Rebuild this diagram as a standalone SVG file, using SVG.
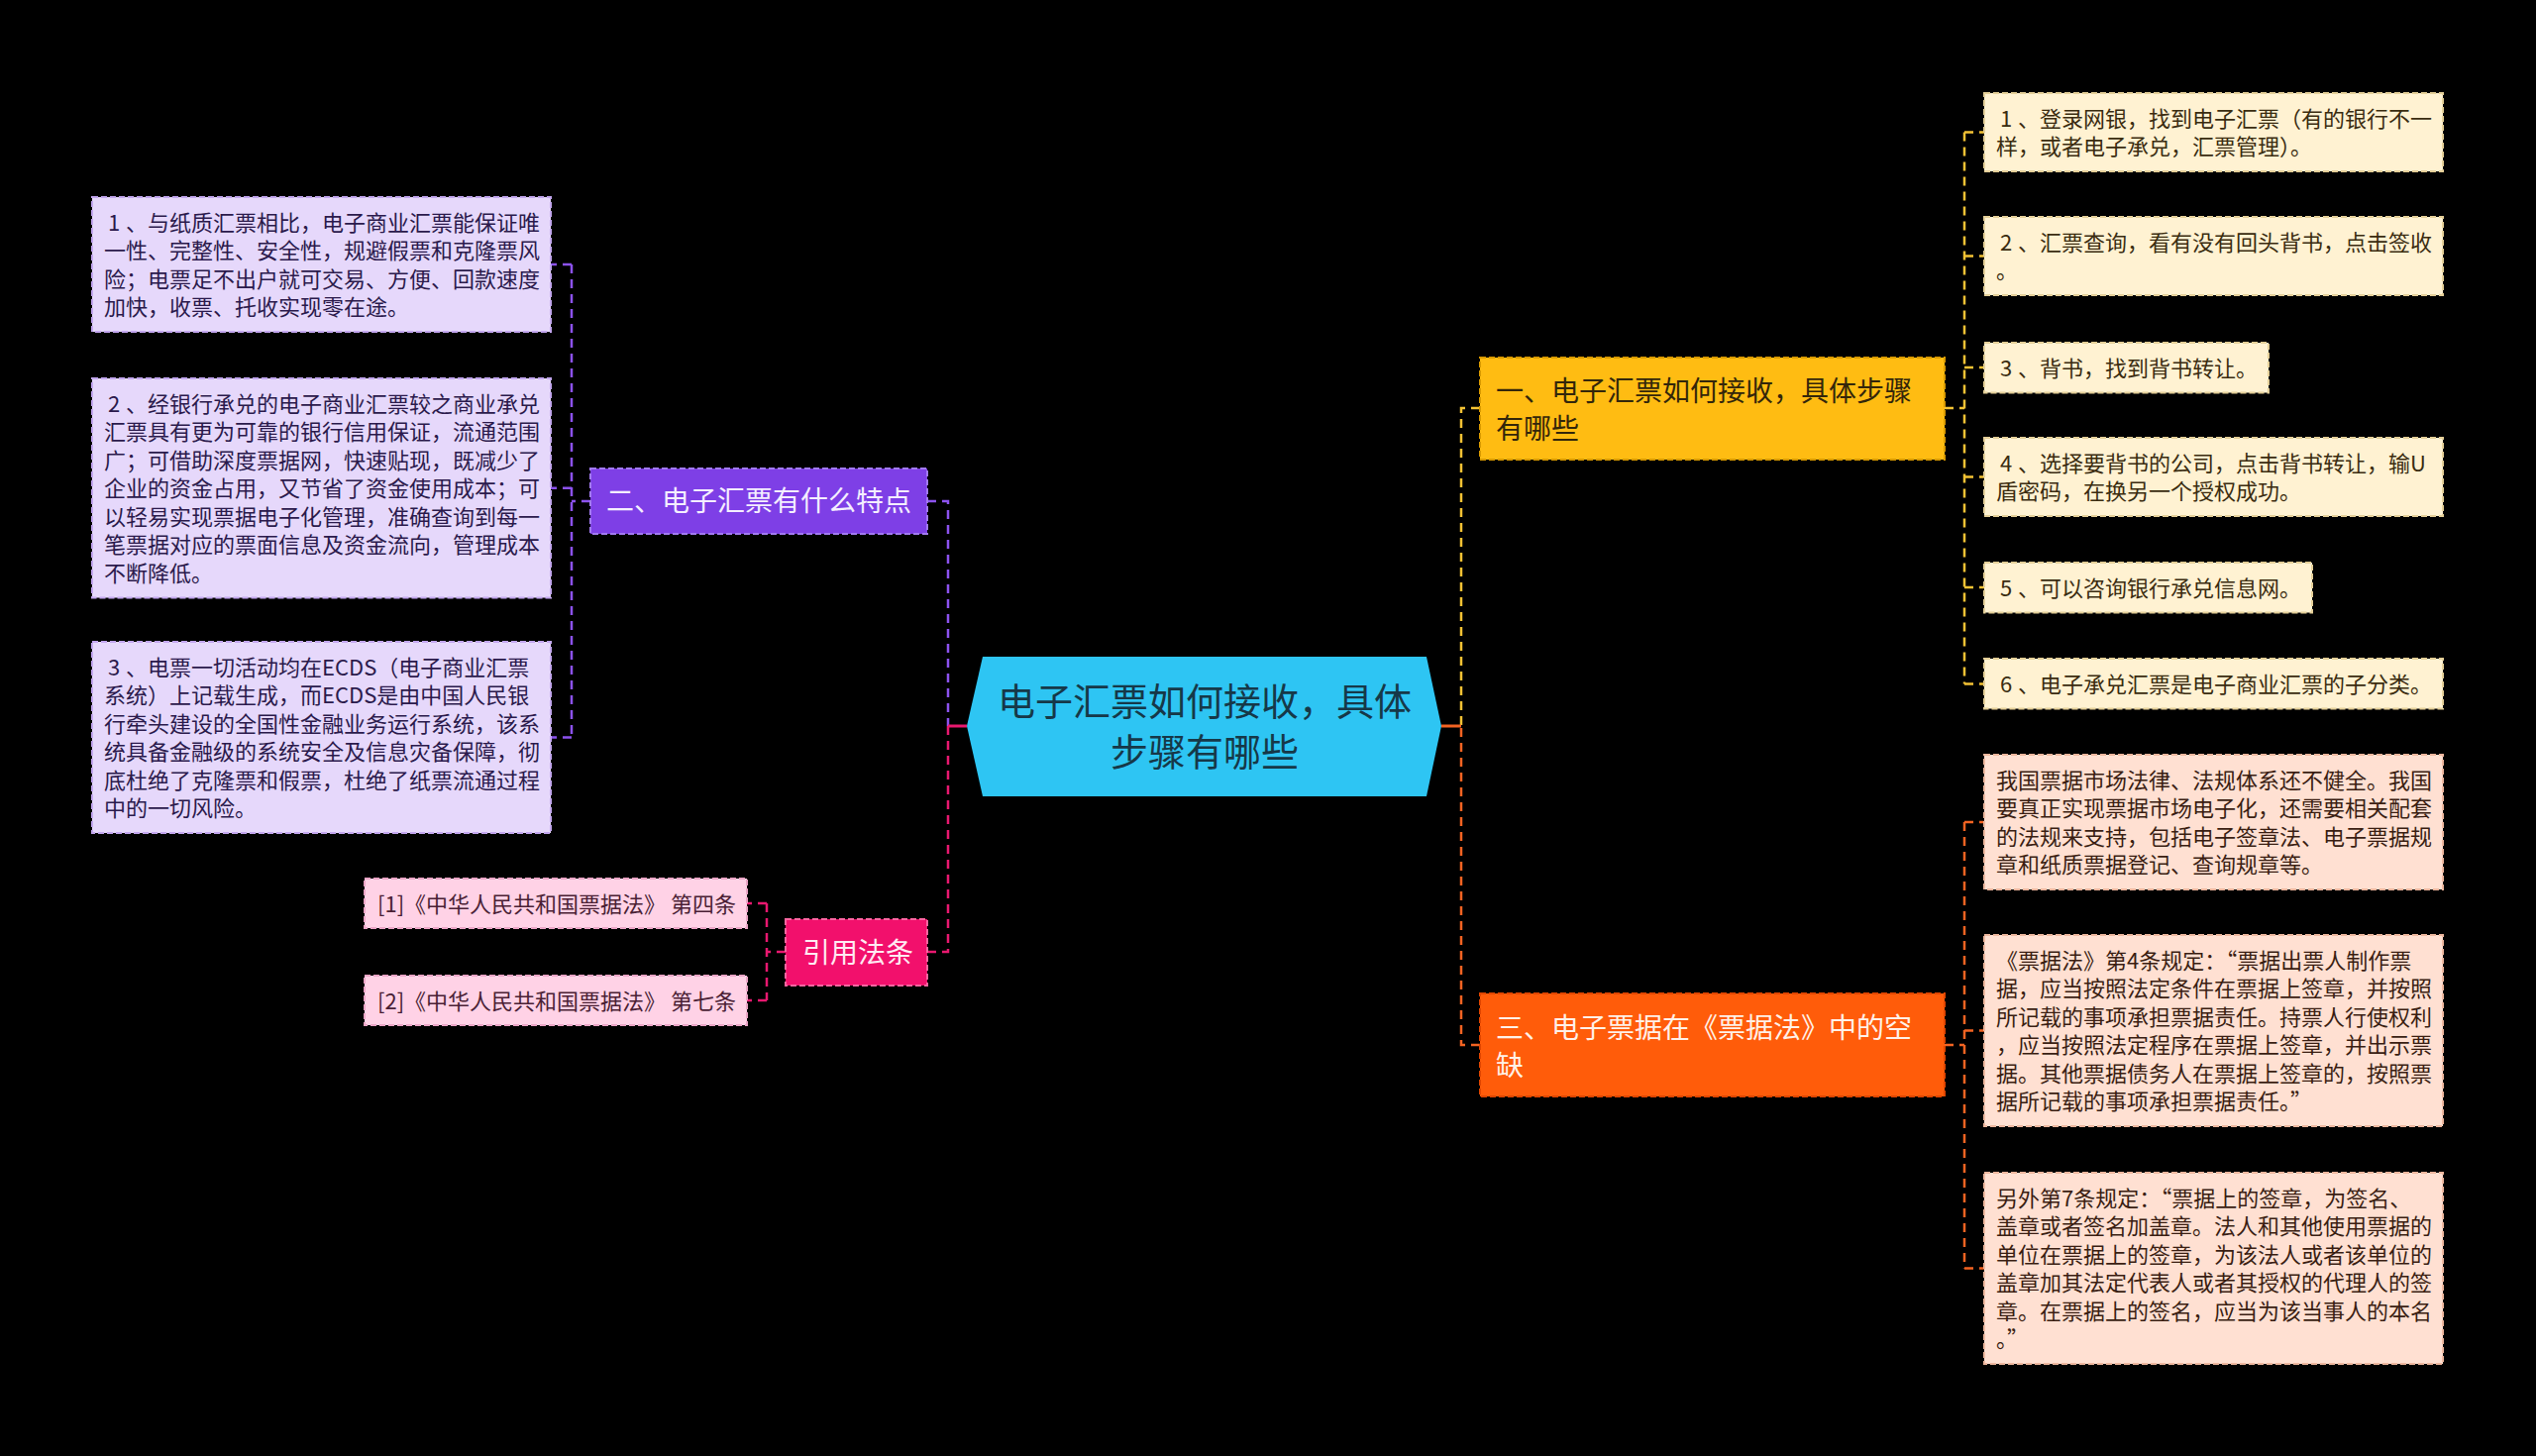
<svg xmlns="http://www.w3.org/2000/svg" width="2560" height="1470" viewBox="0 0 2560 1470">
<style>
text{font-family:"Noto Sans CJK SC","Microsoft YaHei","Noto Sans",sans-serif;}
.leaf{font-size:22px;}
.lp rect{fill:#E6D8FB;stroke:#C2A6EE;stroke-width:2;stroke-dasharray:6 3;}
.lp text{fill:#2B1A4C;}
.lc rect{fill:#FFD2E6;stroke:#EBA5C6;stroke-width:2;stroke-dasharray:6 3;}
.lc text{fill:#4A1F35;}
.ly rect{fill:#FFF2D2;stroke:#E4CF98;stroke-width:2;stroke-dasharray:6 3;}
.ly text{fill:#3A2C10;}
.lo rect{fill:#FFE0D2;stroke:#EDB79E;stroke-width:2;stroke-dasharray:6 3;}
.lo text{fill:#3A1E12;}
.node{font-size:28px;}
.c{fill:none;stroke-width:2.5;stroke-dasharray:9 6;}
.cp{stroke:#8C52EE;}
.ck{stroke:#E8186F;}
.cy{stroke:#F3C234;}
.co{stroke:#F26322;}
</style>
<rect width="2560" height="1470" fill="#000"/>
<g id="connectors">
<path class="c cp" d="M936,506 H957 V733"/>
<path class="c ck" d="M936,961 H957 V733"/>
<path d="M957,733 H976" stroke="#E8186F" stroke-width="3" fill="none"/>
<path class="c cp" d="M596,506 H577"/>
<path class="c cp" d="M577,267 V744.5"/>
<path class="c cp" d="M577,267 H556 M577,492.7 H556 M577,744.5 H556"/>
<path class="c ck" d="M793,961 H774"/>
<path class="c ck" d="M774,912 V1010"/>
<path class="c ck" d="M774,912 H754 M774,1010 H754"/>
<path class="c cy" d="M1494,412 H1475 V733"/>
<path class="c co" d="M1494,1055 H1475 V733"/>
<path d="M1455,733 H1475" stroke="#F26322" stroke-width="3" fill="none"/>
<path class="c cy" stroke-width="2" d="M1963,412 H1983"/>
<path class="c cy" stroke-width="2" d="M1983,133.5 V690.5"/>
<path class="c cy" stroke-width="2" d="M1983,133.5 H2003 M1983,258.5 H2003 M1983,371 H2003 M1983,481.5 H2003 M1983,593 H2003 M1983,690.5 H2003"/>
<path class="c co" stroke-width="2" d="M1963,1055 H1983"/>
<path class="c co" stroke-width="2" d="M1983,830 V1280.5"/>
<path class="c co" stroke-width="2" d="M1983,830 H2003 M1983,1040.5 H2003 M1983,1280.5 H2003"/>
</g>
<g id="center">
<polygon points="976,733 992,663 1440,663 1455,733 1440,804 992,804" fill="#2EC5F3"/>
<text x="1216" y="722" font-size="38" fill="#163848" text-anchor="middle">电子汇票如何接收，具体</text>
<text x="1216" y="773" font-size="38" fill="#163848" text-anchor="middle">步骤有哪些</text>
</g>
<g id="n-features">
<rect x="596" y="473" width="340" height="66" fill="#7E3FE6" stroke="#A27AF0" stroke-width="2" stroke-dasharray="6 3"/>
<text class="node" x="612" y="516" fill="#F4EEFF">二、电子汇票有什么特点</text>
</g>
<g id="n-law">
<rect x="793" y="928" width="143" height="67" fill="#F2106C" stroke="#F865A0" stroke-width="2" stroke-dasharray="6 3"/>
<text class="node" x="810" y="972" fill="#FFEAF2">引用法条</text>
</g>
<g id="n-receive">
<rect x="1494" y="361" width="469" height="103" fill="#FFBC12" stroke="#D99A00" stroke-width="2" stroke-dasharray="6 3"/>
<text class="node" fill="#33260A"><tspan x="1510" y="405">一、电子汇票如何接收，具体步骤</tspan><tspan x="1510" y="443">有哪些</tspan></text>
</g>
<g id="n-gap">
<rect x="1494" y="1003" width="469" height="104" fill="#FF5C0A" stroke="#E04500" stroke-width="2" stroke-dasharray="6 3"/>
<text class="node" fill="#FFF1E8"><tspan x="1510" y="1048">三、电子票据在《票据法》中的空</tspan><tspan x="1510" y="1086">缺</tspan></text>
</g>
<g id="l1" class="lp leaf">
<rect x="93" y="199" width="463" height="136"/>
<text><tspan x="109" y="232.7">1</tspan><tspan x="127" y="232.7">、与纸质汇票相比，电子商业汇票能保证唯</tspan><tspan x="105" y="261.2">一性、完整性、安全性，规避假票和克隆票风</tspan><tspan x="105" y="289.7">险；电票足不出户就可交易、方便、回款速度</tspan><tspan x="105" y="318.2">加快，收票、托收实现零在途。</tspan></text>
</g>
<g id="l2" class="lp leaf">
<rect x="93" y="382" width="463" height="221.5"/>
<text><tspan x="109" y="415.7">2</tspan><tspan x="127" y="415.7">、经银行承兑的电子商业汇票较之商业承兑</tspan><tspan x="105" y="444.2">汇票具有更为可靠的银行信用保证，流通范围</tspan><tspan x="105" y="472.7">广；可借助深度票据网，快速贴现，既减少了</tspan><tspan x="105" y="501.2">企业的资金占用，又节省了资金使用成本；可</tspan><tspan x="105" y="529.7">以轻易实现票据电子化管理，准确查询到每一</tspan><tspan x="105" y="558.2">笔票据对应的票面信息及资金流向，管理成本</tspan><tspan x="105" y="586.7">不断降低。</tspan></text>
</g>
<g id="l3" class="lp leaf">
<rect x="93" y="648" width="463" height="193"/>
<text><tspan x="109" y="681.7">3</tspan><tspan x="127" y="681.7">、电票一切活动均在ECDS（电子商业汇票</tspan><tspan x="105" y="710.2">系统）上记载生成，而ECDS是由中国人民银</tspan><tspan x="105" y="738.7">行牵头建设的全国性金融业务运行系统，该系</tspan><tspan x="105" y="767.2">统具备金融级的系统安全及信息灾备保障，彻</tspan><tspan x="105" y="795.7">底杜绝了克隆票和假票，杜绝了纸票流通过程</tspan><tspan x="105" y="824.2">中的一切风险。</tspan></text>
</g>
<g id="c1" class="lc leaf">
<rect x="368" y="887" width="386" height="50"/>
<text x="381" y="920.7">[1]《中华人民共和国票据法》 第四条</text>
</g>
<g id="c2" class="lc leaf">
<rect x="368" y="985" width="386" height="50"/>
<text x="381" y="1018.7">[2]《中华人民共和国票据法》 第七条</text>
</g>
<g id="r1" class="ly leaf">
<rect x="2003" y="94" width="463" height="79"/>
<text><tspan x="2019" y="127.7">1</tspan><tspan x="2037" y="127.7">、登录网银，找到电子汇票（有的银行不一</tspan><tspan x="2015" y="156.2">样，或者电子承兑，汇票管理）。</tspan></text>
</g>
<g id="r2" class="ly leaf">
<rect x="2003" y="219" width="463" height="79"/>
<text><tspan x="2019" y="252.7">2</tspan><tspan x="2037" y="252.7">、汇票查询，看有没有回头背书，点击签收</tspan><tspan x="2015" y="281.2">。</tspan></text>
</g>
<g id="r3" class="ly leaf">
<rect x="2003" y="346" width="287" height="50.5"/>
<text><tspan x="2019" y="379.7">3</tspan><tspan x="2037" y="379.7">、背书，找到背书转让。</tspan></text>
</g>
<g id="r4" class="ly leaf">
<rect x="2003" y="442" width="463" height="79"/>
<text><tspan x="2019" y="475.7">4</tspan><tspan x="2037" y="475.7">、选择要背书的公司，点击背书转让，输U</tspan><tspan x="2015" y="504.2">盾密码，在换另一个授权成功。</tspan></text>
</g>
<g id="r5" class="ly leaf">
<rect x="2003" y="568" width="331" height="50.5"/>
<text><tspan x="2019" y="601.7">5</tspan><tspan x="2037" y="601.7">、可以咨询银行承兑信息网。</tspan></text>
</g>
<g id="r6" class="ly leaf">
<rect x="2003" y="665" width="463" height="50.5"/>
<text><tspan x="2019" y="698.7">6</tspan><tspan x="2037" y="698.7">、电子承兑汇票是电子商业汇票的子分类。</tspan></text>
</g>
<g id="o1" class="lo leaf">
<rect x="2003" y="762" width="463" height="136"/>
<text><tspan x="2015" y="795.7">我国票据市场法律、法规体系还不健全。我国</tspan><tspan x="2015" y="824.2">要真正实现票据市场电子化，还需要相关配套</tspan><tspan x="2015" y="852.7">的法规来支持，包括电子签章法、电子票据规</tspan><tspan x="2015" y="881.2">章和纸质票据登记、查询规章等。</tspan></text>
</g>
<g id="o2" class="lo leaf">
<rect x="2003" y="944" width="463" height="193"/>
<text><tspan x="2015" y="977.7">《票据法》第4条规定：“票据出票人制作票</tspan><tspan x="2015" y="1006.2">据，应当按照法定条件在票据上签章，并按照</tspan><tspan x="2015" y="1034.7">所记载的事项承担票据责任。持票人行使权利</tspan><tspan x="2015" y="1063.2">，应当按照法定程序在票据上签章，并出示票</tspan><tspan x="2015" y="1091.7">据。其他票据债务人在票据上签章的，按照票</tspan><tspan x="2015" y="1120.2">据所记载的事项承担票据责任。”</tspan></text>
</g>
<g id="o3" class="lo leaf">
<rect x="2003" y="1184" width="463" height="193"/>
<text><tspan x="2015" y="1217.7">另外第7条规定：“票据上的签章，为签名、</tspan><tspan x="2015" y="1246.2">盖章或者签名加盖章。法人和其他使用票据的</tspan><tspan x="2015" y="1274.7">单位在票据上的签章，为该法人或者该单位的</tspan><tspan x="2015" y="1303.2">盖章加其法定代表人或者其授权的代理人的签</tspan><tspan x="2015" y="1331.7">章。在票据上的签名，应当为该当事人的本名</tspan><tspan x="2015" y="1360.2">。”</tspan></text>
</g>
</svg>
